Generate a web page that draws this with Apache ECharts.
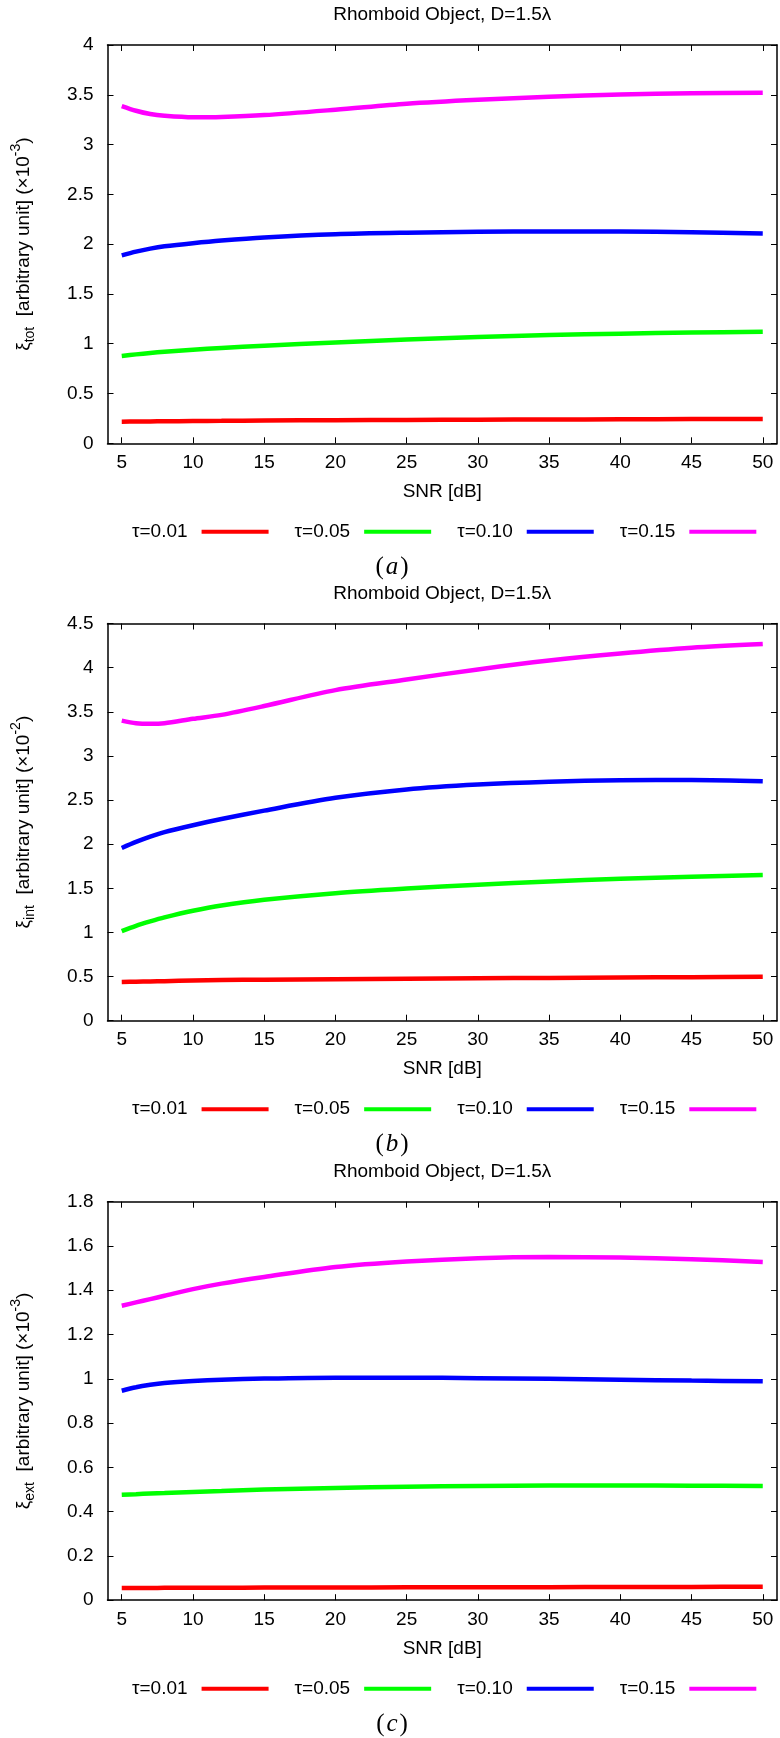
<!DOCTYPE html>
<html>
<head>
<meta charset="utf-8">
<script src="https://cdn.jsdelivr.net/npm/echarts@6/dist/echarts.min.js"></script>
<style>
html,body{margin:0;padding:0;background:#fff;}
#c{width:780px;height:1738px;}
</style>
</head>
<body>
<div id="c"></div>
<script>
// ---- data ----
const snr = [5, 6, 7, 8, 10, 12, 15, 20, 25, 30, 35, 40, 45, 50];
const xTicks = [5, 10, 15, 20, 25, 30, 35, 40, 45, 50];
const seriesNames = ['τ=0.01', 'τ=0.05', 'τ=0.10', 'τ=0.15'];
const titleText = 'Rhomboid Object, D=1.5λ';
const panelLabels = ['a', 'b', 'c'];

// panel (a): xi_tot (x10^-3)
const totT001 = [0.217, 0.219, 0.220, 0.221, 0.224, 0.226, 0.229, 0.232, 0.235, 0.237, 0.239, 0.241, 0.243, 0.244];
const totT005 = [0.877, 0.893, 0.907, 0.919, 0.940, 0.957, 0.980, 1.012, 1.043, 1.067, 1.087, 1.101, 1.112, 1.120];
const totT010 = [1.888, 1.925, 1.955, 1.978, 2.010, 2.037, 2.068, 2.100, 2.115, 2.124, 2.127, 2.126, 2.120, 2.108];
const totT015 = [3.387, 3.340, 3.307, 3.290, 3.275, 3.278, 3.296, 3.350, 3.410, 3.450, 3.480, 3.504, 3.515, 3.520];

// panel (b): xi_int (x10^-2)
const intT001 = [0.438, 0.442, 0.445, 0.448, 0.455, 0.460, 0.465, 0.471, 0.476, 0.481, 0.485, 0.489, 0.493, 0.497];
const intT005 = [1.014, 1.075, 1.125, 1.170, 1.245, 1.305, 1.370, 1.445, 1.497, 1.540, 1.578, 1.607, 1.632, 1.651];
const intT010 = [1.956, 2.025, 2.085, 2.137, 2.215, 2.285, 2.380, 2.525, 2.620, 2.675, 2.708, 2.725, 2.728, 2.714];
const intT015 = [3.400, 3.370, 3.363, 3.370, 3.420, 3.465, 3.565, 3.745, 3.865, 3.980, 4.080, 4.160, 4.225, 4.267];

// panel (c): xi_ext (x10^-3)
const extT001 = [0.055, 0.055, 0.055, 0.056, 0.056, 0.056, 0.057, 0.057, 0.058, 0.058, 0.059, 0.060, 0.060, 0.061];
const extT005 = [0.476, 0.479, 0.482, 0.484, 0.489, 0.493, 0.500, 0.507, 0.512, 0.516, 0.518, 0.518, 0.517, 0.516];
const extT010 = [0.946, 0.962, 0.973, 0.981, 0.990, 0.996, 1.001, 1.005, 1.005, 1.003, 1.000, 0.996, 0.992, 0.989];
const extT015 = [1.330, 1.345, 1.360, 1.375, 1.405, 1.430, 1.460, 1.505, 1.530, 1.545, 1.550, 1.548, 1.540, 1.528];

const yMaxes = [4, 4.5, 1.8];
const yIntervals = [0.5, 0.5, 0.2];
const ySubs = ['tot', 'int', 'ext'];
const yExps = ['-3', '-2', '-3'];

// ---- layout / styles ----
const colors = ['#ff0000', '#00ff00', '#0000ff', '#ff00ff'];
const FONT = "'Liberation Sans', Arial, Helvetica, sans-serif";
const panelData = [
  [totT001, totT005, totT010, totT015],
  [intT001, intT005, intT010, intT015],
  [extT001, extT005, extT010, extT015]
];
const gridTops = [45, 623.5, 1201.7];
const gridHeights = [398.3, 397.2, 398.5];
const gridLeft = 107.5, gridRight = 3;
const plotCenterX = (gridLeft + 780 - gridRight) / 2;

const grids = [], xAxes = [], yAxes = [], series = [], legends = [], graphics = [];
const axisLineStyle = {color: '#000', width: 1.5};

for (let p = 0; p < 3; p++) {
  const top = gridTops[p], h = gridHeights[p], bottom = top + h;
  grids.push({left: gridLeft, right: gridRight, top: top, height: h, show: false, containLabel: false});
  // bottom x axis
  xAxes.push({
    type: 'value', gridIndex: p, position: 'bottom', min: 4, max: 51,
    axisLine: {show: true, onZero: false, lineStyle: axisLineStyle},
    axisTick: {show: true, inside: true, length: 6, customValues: xTicks, lineStyle: {color: '#000', width: 1}},
    axisLabel: {show: true, customValues: xTicks, fontSize: 19, fontFamily: FONT, color: '#000', margin: 10},
    splitLine: {show: false},
    name: 'SNR [dB]', nameLocation: 'middle', nameGap: 39,
    nameTextStyle: {fontSize: 19, fontFamily: FONT, color: '#000'}
  });
  // top mirror axis
  xAxes.push({
    type: 'value', gridIndex: p, position: 'top', min: 4, max: 51,
    axisLine: {show: true, onZero: false, lineStyle: axisLineStyle},
    axisTick: {show: true, inside: true, length: 6, customValues: xTicks, lineStyle: {color: '#000', width: 1}},
    axisLabel: {show: false},
    splitLine: {show: false}
  });
  // left y axis
  yAxes.push({
    type: 'value', gridIndex: p, position: 'left', min: 0, max: yMaxes[p], interval: yIntervals[p],
    axisLine: {show: true, onZero: false, lineStyle: axisLineStyle},
    axisTick: {show: true, inside: true, length: 6, lineStyle: {color: '#000', width: 1}},
    axisLabel: {show: true, fontSize: 19, fontFamily: FONT, color: '#000', margin: 14},
    splitLine: {show: false},
    name: '{g|ξ}{sub|' + ySubs[p] + '}{n|  [arbitrary unit] (×10}{sup|' + yExps[p] + '}{n|)}',
    nameLocation: 'middle', nameRotate: 90, nameGap: 70,
    nameTextStyle: {
      fontSize: 19, fontFamily: FONT, color: '#000',
      rich: {
        g: {fontSize: 19, fontFamily: FONT, color: '#000', lineHeight: 28, verticalAlign: 'middle'},
        n: {fontSize: 19, fontFamily: FONT, color: '#000', lineHeight: 28, verticalAlign: 'middle'},
        sub: {fontSize: 14, fontFamily: FONT, color: '#000', lineHeight: 12, verticalAlign: 'bottom'},
        sup: {fontSize: 14, fontFamily: FONT, color: '#000', lineHeight: 12, verticalAlign: 'top'}
      }
    }
  });
  // right mirror y axis
  yAxes.push({
    type: 'value', gridIndex: p, position: 'right', min: 0, max: yMaxes[p], interval: yIntervals[p],
    axisLine: {show: true, onZero: false, lineStyle: axisLineStyle},
    axisTick: {show: true, inside: true, length: 6, lineStyle: {color: '#000', width: 1}},
    axisLabel: {show: false},
    splitLine: {show: false}
  });

  for (let s = 0; s < 4; s++) {
    const vals = panelData[p][s];
    series.push({
      type: 'line', name: seriesNames[s],
      xAxisIndex: p * 2, yAxisIndex: p * 2,
      data: snr.map((x, k) => [x, vals[k]]),
      showSymbol: false, symbol: 'none', smooth: 0.3,
      color: colors[s],
      lineStyle: {width: 4.5, color: colors[s]},
      z: 3
    });
  }

  legends.push({
    show: true, orient: 'horizontal', left: 127, top: bottom + 74,
    align: 'right', icon: 'rect', itemWidth: 67, itemHeight: 4, itemGap: 26,
    textStyle: {fontSize: 19, fontFamily: FONT, color: '#000', padding: [0, 9, 0, 0]},
    selectedMode: false,
    data: seriesNames.map((n, i) => ({name: n, itemStyle: {color: colors[i]}}))
  });

  graphics.push({
    type: 'text', x: plotCenterX, y: top - 30,
    style: {text: titleText, font: '19px ' + FONT, fill: '#000', textAlign: 'center', textVerticalAlign: 'middle'}
  });
  graphics.push({
    type: 'text', x: 392, y: bottom + 124,
    style: {
      text: '{p|(}{i|' + panelLabels[p] + '}{p|)}',
      textAlign: 'center', textVerticalAlign: 'middle',
      rich: {
        p: {fontSize: 25, fontFamily: "'Liberation Serif', 'DejaVu Serif', serif", fill: '#000'},
        i: {fontSize: 25, fontStyle: 'italic', fontFamily: "'Liberation Serif', 'DejaVu Serif', serif", fill: '#000', padding: [0, 2, 0, 2]}
      }
    }
  });
}

const chart = echarts.init(document.getElementById('c'), null, {renderer: 'canvas'});
chart.setOption({
  animation: false,
  backgroundColor: '#fff',
  grid: grids,
  xAxis: xAxes,
  yAxis: yAxes,
  legend: legends,
  series: series,
  graphic: graphics
});
</script>
</body>
</html>
